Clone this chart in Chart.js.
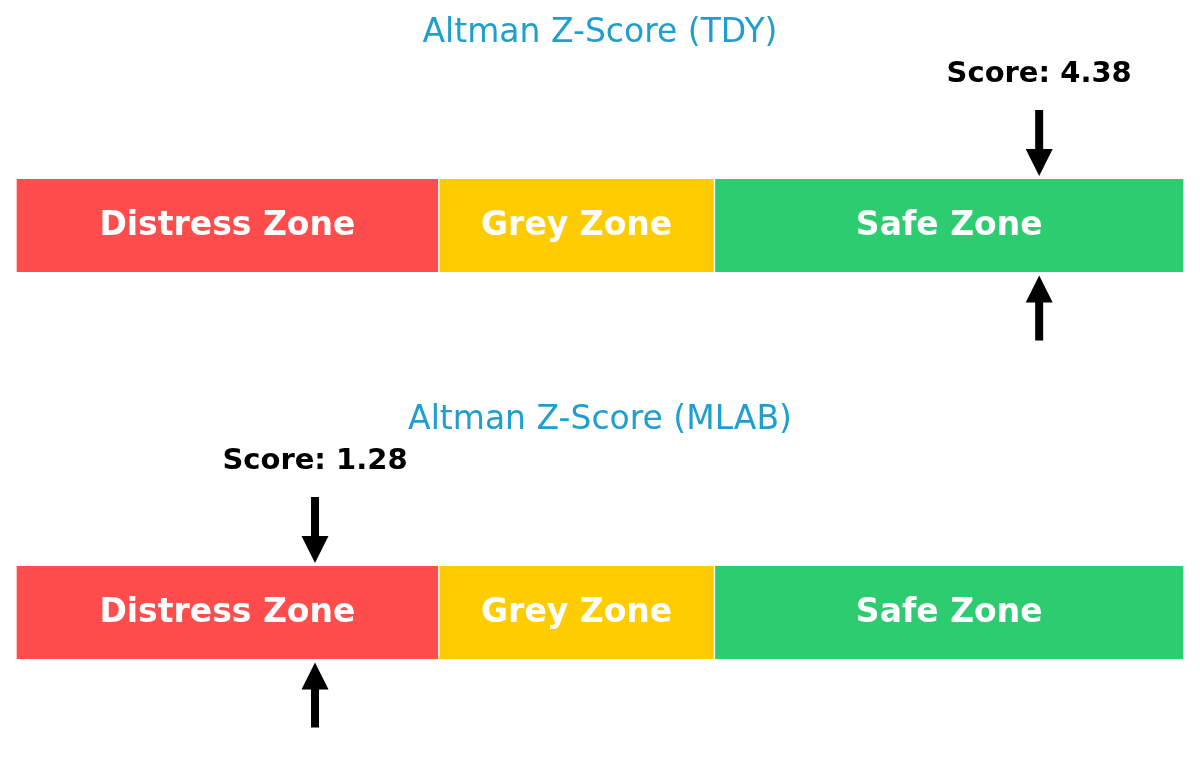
<!DOCTYPE html>
<html>
<head>
<meta charset="utf-8">
<script src="https://cdn.jsdelivr.net/npm/chart.js@4.4.1/dist/chart.umd.min.js"></script>
<style>
  html, body { margin: 0; padding: 0; background: #fff; }
  .panel { position: relative; width: 1200px; height: 387px; }
</style>
</head>
<body>
<div class="panel"><canvas id="chartTDY"></canvas></div>
<div class="panel"><canvas id="chartMLAB"></canvas></div>
<script>
// zone data (Altman Z-score cut-offs 1.81 / 2.99, axis runs 0..5)
const zoneLabels = ['Distress Zone', 'Grey Zone', 'Safe Zone'];
const zoneWidths = [1.81, 1.18, 2.01];
const zoneColors = ['#ff4d4d', '#ffcc00', '#2ecc71'];
const axisMin = 0;
const axisMax = 5;

const tickers = ['TDY', 'MLAB'];
const scores = [4.38, 1.28];

const FONT = "'DejaVu Sans', 'Liberation Sans', sans-serif";

// draws zone names inside the bars plus the score arrows and label
const zonePlugin = {
    id: 'zonePlugin',
    afterDatasetsDraw(chart, args, opts) {
        const ctx = chart.ctx;
        const xScale = chart.scales.x;
        let top = 0, bottom = 0;

        ctx.save();
        ctx.fillStyle = '#ffffff';
        ctx.font = 'bold 33px ' + FONT;
        ctx.textAlign = 'center';
        ctx.textBaseline = 'alphabetic';
        chart.data.datasets.forEach((ds, i) => {
            const bar = chart.getDatasetMeta(i).data[0];
            const p = bar.getProps(['x', 'y', 'base', 'height'], true);
            top = p.y - p.height / 2;
            bottom = p.y + p.height / 2;
            ctx.fillText(ds.label, (p.x + p.base) / 2, p.y + 9.5);
        });

        const sx = xScale.getPixelForValue(opts.score);
        ctx.fillStyle = '#000000';

        // down arrow above the bar
        let tip = top - 3;
        ctx.fillRect(sx - 4, tip - 66, 8, 42);
        ctx.beginPath();
        ctx.moveTo(sx - 13.5, tip - 27);
        ctx.lineTo(sx + 13.5, tip - 27);
        ctx.lineTo(sx, tip);
        ctx.closePath();
        ctx.fill();

        // up arrow below the bar
        tip = bottom + 3.5;
        ctx.fillRect(sx - 4, tip + 25, 8, 40);
        ctx.beginPath();
        ctx.moveTo(sx - 13.5, tip + 27);
        ctx.lineTo(sx + 13.5, tip + 27);
        ctx.lineTo(sx, tip);
        ctx.closePath();
        ctx.fill();

        ctx.font = 'bold 29px ' + FONT;
        ctx.fillText('Score: ' + opts.score.toFixed(2), sx, top - 97.5);
        ctx.restore();
    }
};

function makeZoneChart(canvasId, ticker, score) {
    const ctx = document.getElementById(canvasId).getContext('2d');
    return new Chart(ctx, {
        type: 'bar',
        data: {
            labels: [ticker],
            datasets: zoneLabels.map((label, i) => ({
                label: label,
                data: [zoneWidths[i]],
                backgroundColor: zoneColors[i],
                borderColor: '#ffffff',
                borderWidth: { left: 1, right: 1, top: 0, bottom: 0 },
                borderSkipped: false,
                barPercentage: 1,
                categoryPercentage: 1
            }))
        },
        options: {
            indexAxis: 'y',
            responsive: true,
            maintainAspectRatio: false,
            animation: false,
            layout: {
                padding: { left: 16, right: 16, top: 0, bottom: 115 }
            },
            scales: {
                x: { stacked: true, min: axisMin, max: axisMax, display: false },
                y: { stacked: true, display: false }
            },
            plugins: {
                legend: { display: false },
                tooltip: { enabled: false },
                title: {
                    display: true,
                    text: 'Altman Z-Score (' + ticker + ')',
                    color: '#1f9fcf',
                    font: { family: FONT, size: 33, weight: 'normal' },
                    padding: { top: 14, bottom: 125.4 }
                },
                zonePlugin: { score: score }
            }
        },
        plugins: [zonePlugin]
    });
}

makeZoneChart('chartTDY', tickers[0], scores[0]);
makeZoneChart('chartMLAB', tickers[1], scores[1]);
</script>
</body>
</html>
